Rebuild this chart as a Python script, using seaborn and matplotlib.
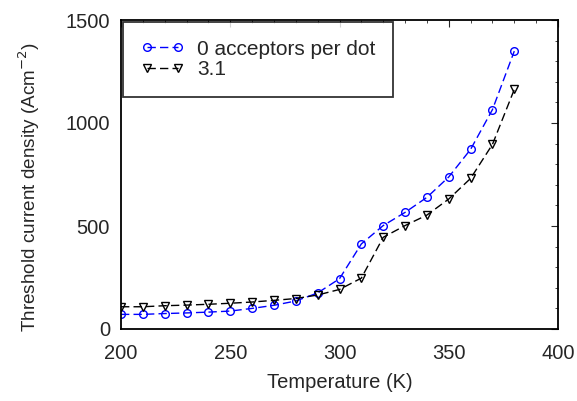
import numpy as np
import pandas as pd
import seaborn as sns
import matplotlib
matplotlib.use("Agg")
import matplotlib.pyplot as plt
from matplotlib.ticker import MultipleLocator

# temperature points (K)
temperature = [200, 210, 220, 230, 240, 250, 260, 270, 280, 290,
               300, 310, 320, 330, 340, 350, 360, 370, 380]
# threshold current density, 0 acceptors per dot
jth_0 = [71, 71, 75, 78, 82, 87, 100, 115, 136, 175,
         244, 413, 502, 566, 639, 738, 872, 1065, 1349]
# threshold current density, 3.1 acceptors per dot
jth_31 = [108, 108, 113, 116, 120, 125, 131, 139, 148, 165,
          192, 247, 445, 502, 553, 631, 731, 896, 1163]

labels = ["0 acceptors per dot", "3.1"]

df = pd.DataFrame({
    "T": temperature * 2,
    "J": jth_0 + jth_31,
    "series": [labels[0]] * len(temperature) + [labels[1]] * len(temperature),
})

sns.set_style("white")
plt.rcParams['font.family'] = ['Liberation Sans', 'DejaVu Sans']

fig = plt.figure(figsize=(5.77, 4.01), dpi=100)
ax = fig.add_axes([121 / 577, 1 - 329 / 401, (558 - 121) / 577, (329 - 20) / 401])

sns.lineplot(
    data=df, x="T", y="J", hue="series", style="series",
    palette={labels[0]: "#0000ff", labels[1]: "black"},
    markers={labels[0]: "o", labels[1]: "v"},
    dashes={labels[0]: (6, 3), labels[1]: (6, 3)},
    markersize=5.5, markeredgewidth=1.0,
    linewidth=1.0, ax=ax,
)
# open markers
for line in ax.lines:
    line.set_markerfacecolor("none")
    line.set_markeredgecolor(line.get_color())

ax.set_xlim(200, 400)
ax.set_ylim(0, 1500)
ax.set_xticks([200, 250, 300, 350, 400])
ax.set_yticks([0, 500, 1000, 1500])
ax.xaxis.set_minor_locator(MultipleLocator(10))
ax.yaxis.set_minor_locator(MultipleLocator(100))
ax.tick_params(which="both", direction="in", top=True, right=True,
               labelsize=14.5)
ax.tick_params(axis="x", which="major", pad=11)
ax.tick_params(axis="y", which="major", pad=8)
ax.tick_params(which="major", length=5, width=0.8)
ax.tick_params(which="minor", length=2.5, width=0.6)
for s in ax.spines.values():
    s.set_linewidth(1.3)
    s.set_color("black")

ax.set_xlabel("Temperature (K)", fontsize=14.5, labelpad=7)
ax.set_ylabel("Threshold current density (Acm$^{-2}$)", fontsize=13.6)
ax.yaxis.set_label_coords(-0.181, 0.46)

leg = ax.legend(loc="upper left", fontsize=15, frameon=True, fancybox=False,
                edgecolor="black", borderaxespad=0.1, handlelength=2.1,
                handletextpad=0.6, numpoints=2,
                borderpad=0.85, labelspacing=0.05, title=None)
leg.get_frame().set_linewidth(1.3)
for h in leg.get_lines():
    h.set_markerfacecolor("none")

fig.savefig("out.png", dpi=100)
